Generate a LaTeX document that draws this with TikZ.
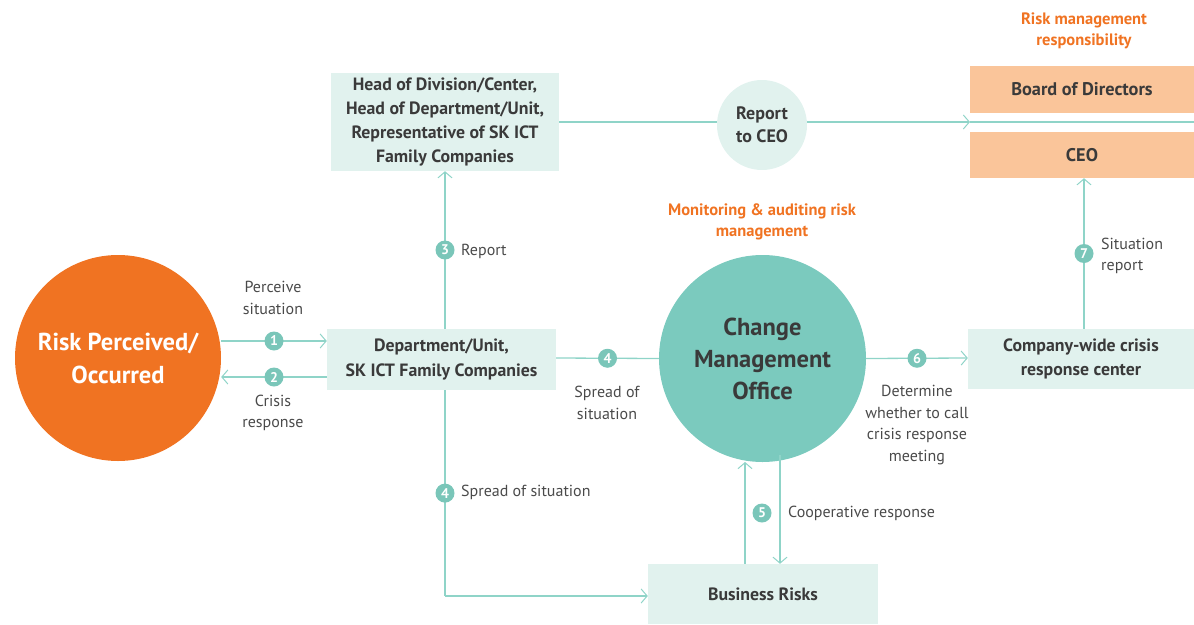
\documentclass[tikz,border=0pt]{standalone}
\usepackage{fontspec}
\setmainfont{PT Sans}
\usetikzlibrary{arrows.meta}
\definecolor{riskorange}{HTML}{F07322}
\definecolor{lineteal}{HTML}{8FD4C8}
\definecolor{boxteal}{HTML}{E1F2EE}
\definecolor{cmoteal}{HTML}{7BCABE}
\definecolor{badgeteal}{HTML}{7AC6B9}
\definecolor{peach}{HTML}{FAC59A}
\definecolor{txt}{HTML}{3A3A3A}
\definecolor{lbl}{HTML}{4A4A4A}
\tikzset{
  x=1pt, y=-1pt,
  conn/.style={draw=lineteal, line width=1.3pt},
  arr/.style={conn, -{Straight Barb[length=6pt,width=14pt,line width=1pt]}},
  tbox/.style={fill=boxteal, inner sep=0pt, align=center, font=\bfseries\fontsize{17.8}{24.3}\selectfont, text=txt},
  pbox/.style={fill=peach, inner sep=0pt, align=center, font=\bfseries\fontsize{18.3}{24}\selectfont, text=txt},
  badge/.style={circle, fill=badgeteal, minimum size=19pt, inner sep=0pt, text=white, font=\bfseries\fontsize{14}{14}\selectfont},
  lab/.style={text=lbl, align=center, font=\fontsize{16}{21.5}\selectfont, inner sep=0pt},
  olab/.style={text=riskorange, align=center, font=\bfseries\fontsize{16.5}{21}\selectfont, inner sep=0pt},
}
\begin{document}
\begin{tikzpicture}
\useasboundingbox (0,0) rectangle (1194,624);
% main shapes
\node[circle, fill=riskorange, minimum size=206pt, inner sep=0pt, text=white, align=center, font=\bfseries\fontsize{24.5}{33}\selectfont] (risk) at (118,358) {Risk Perceived/\\Occurred};
\node[tbox, minimum width=229pt, minimum height=61pt] (dept) at (441.5,359.5) {Department/Unit,\\SK ICT Family Companies};
\node[tbox, minimum width=228pt, minimum height=98pt] (head) at (445,122) {Head of Division/Center,\\Head of Department/Unit,\\Representative of SK ICT\\Family Companies};
\node[circle, fill=boxteal, minimum size=90pt, inner sep=0pt, align=center, text=txt, font=\bfseries\fontsize{18}{23}\selectfont] (rceo) at (762,125) {Report\\to CEO};
\node[pbox, minimum width=224pt, minimum height=47pt] (board) at (1082,89.5) {Board of Directors};
\node[pbox, minimum width=224pt, minimum height=46pt] (ceo) at (1082,155) {CEO};
\node[tbox, minimum width=226pt, minimum height=60pt] (cw) at (1081,359) {Company-wide crisis\\response center};
\node[circle, fill=cmoteal, minimum size=207pt, inner sep=0pt, align=center, text=txt, font=\bfseries\fontsize{24.5}{32}\selectfont] (cmo) at (762.5,358.5) {Change\\Management\\Office};
\node[tbox, minimum width=230pt, minimum height=60pt] (biz) at (763,594) {Business Risks};
% orange labels
\node[olab] (rmr) at (1084,31) {Risk management\\responsibility};
\node[olab] (mar) at (762,222) {Monitoring \& auditing risk\\management};
% coordinates
\coordinate (endline) at (1194,122);
\coordinate (arrceo) at (970,122);
\coordinate (corner) at (445,596);
% connectors
\draw[arr] (risk.east |- 0,341) -- (dept.west |- 0,341) node[badge, pos=0.5] (b1) {1};
\draw[arr] (dept.west |- 0,377) -- (risk.east |- 0,377) node[badge, pos=0.5] (b2) {2};
\node[lab] (l1) at (273,298) {Perceive\\situation};
\node[lab] (l2) at (273,413) {Crisis\\response};
\draw[arr] (dept.north -| 445,0) -- (head.south -| 445,0) node[badge, pos=0.5] (b3) {3};
\node[lab, anchor=west] (l3) at (461,251) {Report};
\draw[conn] (head.east |- 0,122) -- (rceo.west |- 0,122);
\draw[arr] (rceo.east |- 0,122) -- (arrceo);
\draw[conn] (arrceo) -- (endline);
\draw[conn] (dept.east |- 0,358) -- (cmo.west) node[badge, pos=0.5] (b4a) {4};
\node[lab] (l4a) at (607,403) {Spread of\\situation};
\draw[arr] (cmo.east) -- (cw.west |- 0,358) node[badge, pos=0.5] (b6) {6};
\node[lab] (l6) at (917,425) {Determine\\whether to call\\crisis response\\meeting};
\draw[arr] (cw.north -| 1084,0) -- (ceo.south -| 1084,0) node[badge, pos=0.5] (b7) {7};
\node[lab, anchor=west, align=left] (l7) at (1101,256) {Situation\\report};
\draw[conn] (dept.south -| 445,0) -- (corner) node[badge, pos=0.5] (b4b) {4};
\draw[arr] (corner) -- (biz.west |- 0,596);
\node[lab, anchor=west] (l4b) at (461,492) {Spread of situation};
\draw[arr] (biz.north -| 745,0) -- (745,462);
\draw[arr] (780,455) -- (biz.north -| 780,0);
\node[badge] (b5) at (762,513) {5};
\node[lab, anchor=west] (l5) at (788,513) {Cooperative response};
\end{tikzpicture}
\end{document}
